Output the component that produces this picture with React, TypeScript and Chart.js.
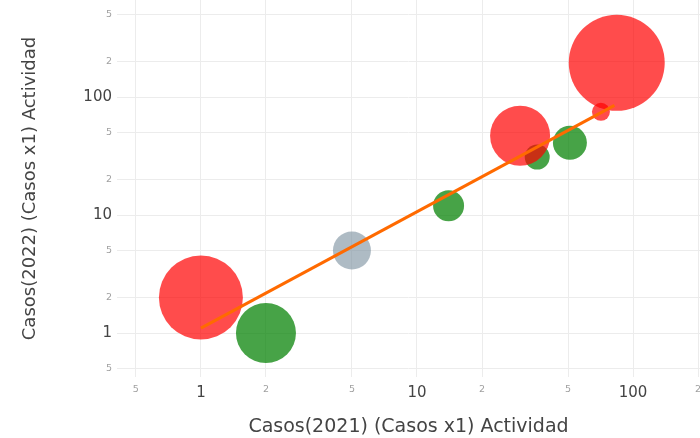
import React, { useEffect, useRef } from "react";
import { Chart, registerables } from "chart.js";

Chart.register(...registerables);

// Bubble groups (x = Casos 2021, y = Casos 2022, r = bubble radius)
const greenX = [2, 14, 36, 51];
const greenY = [1, 12, 31, 41];
const greenR = [30, 15.5, 12.5, 17];

const grayX = [5];
const grayY = [5];
const grayR = [19];

const redX = [1, 30, 71, 84];
const redY = [2, 47, 75, 195];
const redR = [42, 30, 9, 48];

// Trend line
const trendX = [1, 82];
const trendY = [1.1, 85];

// Tick values and labels
const xTickValues = [0.5, 1, 2, 5, 10, 20, 50, 100, 200];
const xTickLabels = ["5", "1", "2", "5", "10", "2", "5", "100", "2"];
const yTickValues = [0.5, 1, 2, 5, 10, 20, 50, 100, 200, 500];
const yTickLabels = ["5", "1", "2", "5", "10", "2", "5", "100", "2", "5"];
const majorTicks = [1, 10, 100];

const xTitle = "Casos(2021) (Casos x1) Actividad";
const yTitle = "Casos(2022) (Casos x1) Actividad";

const FONT = "'DejaVu Sans', Verdana, sans-serif";

const toPoints = (xs: number[], ys: number[], rs?: number[]) =>
  xs.map((x, i) => (rs ? { x, y: ys[i], r: rs[i] } : { x, y: ys[i] }));

const tickFont = (ctx: any) => {
  const v = ctx.tick ? ctx.tick.value : 0;
  const major = majorTicks.includes(v);
  return { family: FONT, size: major ? 15 : 9.5 };
};
const tickColor = (ctx: any) => {
  const v = ctx.tick ? ctx.tick.value : 0;
  return majorTicks.includes(v) ? "#444" : "#a0a0a0";
};

export default function App() {
  const ref = useRef<HTMLCanvasElement | null>(null);

  useEffect(() => {
    document.body.style.margin = "0";
    const canvas = ref.current;
    if (!canvas) return;
    const chart = new Chart(canvas, {
      type: "bubble",
      data: {
        datasets: [
          {
            type: "line",
            label: "Tendencia",
            data: toPoints(trendX, trendY) as any,
            borderColor: "#ff6a00",
            borderWidth: 3,
            pointRadius: 0,
            fill: false,
            tension: 0,
          } as any,
          {
            label: "Rojo",
            data: toPoints(redX, redY, redR) as any,
            backgroundColor: "rgba(255,0,0,0.7)",
            borderWidth: 0,
          },
          {
            label: "Gris",
            data: toPoints(grayX, grayY, grayR) as any,
            backgroundColor: "rgba(130,150,165,0.65)",
            borderWidth: 0,
          },
          {
            label: "Verde",
            data: toPoints(greenX, greenY, greenR) as any,
            backgroundColor: "rgba(0,128,0,0.72)",
            borderWidth: 0,
          },
        ],
      },
      options: {
        animation: false,
        responsive: false,
        maintainAspectRatio: false,
        layout: { padding: 0, autoPadding: false },
        plugins: {
          legend: { display: false },
          tooltip: { enabled: false },
        },
        scales: {
          x: {
            type: "logarithmic",
            position: "bottom",
            min: 0.409,
            max: 204,
            border: { display: false },
            grid: { color: "#ececec", lineWidth: 1, drawTicks: false },
            ticks: {
              autoSkip: false,
              maxRotation: 0,
              padding: 7,
              font: tickFont as any,
              color: tickColor as any,
              callback: (_v: any, i: number) => xTickLabels[i],
            },
            afterBuildTicks: (scale: any) => {
              scale.ticks = xTickValues.map((v) => ({ value: v, major: majorTicks.includes(v) }));
            },
            afterFit: (scale: any) => {
              scale.height = 61;
              scale.paddingLeft = 0;
              scale.paddingRight = 0;
              scale.paddingTop = 0;
              scale.paddingBottom = 0;
            },
            title: {
              display: true,
              text: xTitle,
              color: "#444",
              font: { family: FONT, size: 19 },
              padding: { top: 0, bottom: 0 },
            },
          },
          y: {
            type: "logarithmic",
            position: "left",
            min: 0.424,
            max: 664,
            border: { display: false },
            grid: { color: "#ececec", lineWidth: 1, drawTicks: false },
            ticks: {
              autoSkip: false,
              padding: 5,
              font: tickFont as any,
              color: tickColor as any,
              callback: (_v: any, i: number) => yTickLabels[i],
            },
            afterBuildTicks: (scale: any) => {
              scale.ticks = yTickValues.map((v) => ({ value: v, major: majorTicks.includes(v) }));
            },
            afterFit: (scale: any) => {
              scale.width = 117;
              scale.paddingLeft = 0;
              scale.paddingRight = 0;
              scale.paddingTop = 0;
              scale.paddingBottom = 0;
            },
            title: {
              display: true,
              text: yTitle,
              color: "#444",
              font: { family: FONT, size: 18 },
              padding: { top: 20, bottom: 0 },
            },
          },
        },
      },
    });
    return () => chart.destroy();
  }, []);

  return (
    <div style={{ width: 700, height: 438, position: "relative", background: "#fff" }}>
      <canvas ref={ref} width={700} height={438} style={{ display: "block" }} />
    </div>
  );
}
